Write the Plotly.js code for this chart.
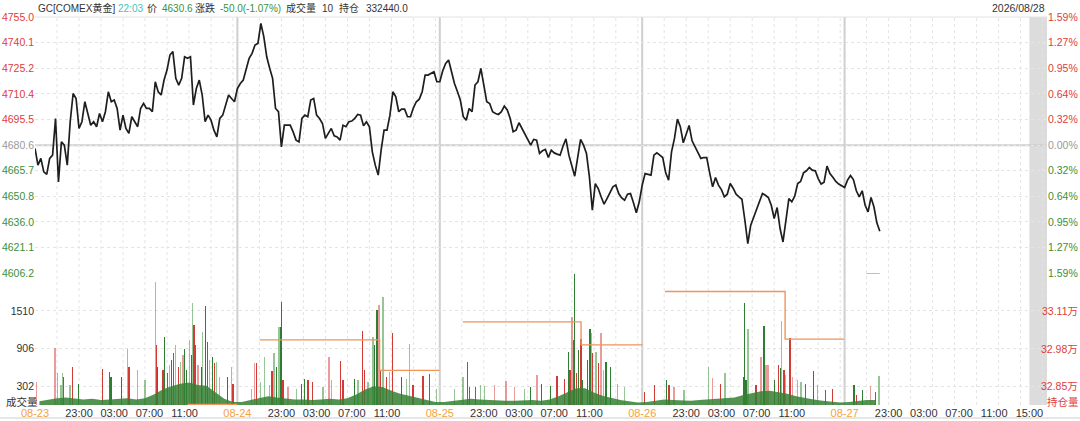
<!DOCTYPE html>
<html><head><meta charset="utf-8">
<script src="https://cdn.plot.ly/plotly-3.0.1.min.js"></script>
<style>html,body{margin:0;padding:0;background:#fff;}#chart{width:1080px;height:421px;}</style>
</head><body><div id="chart"></div>
<script>
// ---------- data ----------
const symbol = 'GC[COMEX黄金]';
const quoteTime = '22:03';
const quoteDate = '2026/08/28';
const prevClose = 4680.6;
const lastVolume = 10;
const openInterest = 332440.0;
const sessionHours = 23;          // 18:00 -> 17:00
const sessionStartHour = 18;
const sampleMinutes = 20;

const dayLabels = ['08-23','08-24','08-25','08-26','08-27'];
const timeLabels = ['23:00','03:00','07:00','11:00','15:00'];

const priceTicks = [4606.2,4621.1,4636.0,4650.8,4665.7,4680.6,4695.5,4710.4,4725.2,4740.1,4755.0];
const pctLabels  = ['1.59%','1.27%','0.95%','0.64%','0.32%','0.00%','0.32%','0.64%','0.95%','1.27%','1.59%'];
const volTicks = [302,906,1510];
const volMax = 2114;
const oiRange = [327800, 332440];
const oiTicks = [328463, 329789, 331114];
const oiLabels = ['32.85万','32.98万','33.11万'];

// price sampled every 20 minutes, per trading day
const day1Price = [4678.7,4669.0,4672.9,4665.1,4663.6,4672.9,4674.8,4696.1,4659.3,4682.5,4680.6,4669.0,4694.2,4710.6,4707.7,4690.3,4694.2,4705.8,4699.0,4692.2,4694.2,4691.3,4699.0,4694.2,4700.0,4711.6,4705.8,4706.8,4701.9,4689.3,4698.0,4690.3,4687.4,4697.1,4694.2,4691.3,4701.9,4704.8,4701.9,4701.9,4700.0,4717.4,4711.6,4709.7,4718.4,4724.2,4732.9,4734.9,4719.4,4715.5,4719.4,4731.9,4731.0,4731.9,4703.9,4713.5,4718.4,4709.7,4694.2,4698.0,4695.1,4689.3,4685.4,4696.1,4698.0,4703.9,4709.7,4707.7,4705.8];
const day2Price = [4713.5,4716.4,4718.4,4724.2,4731.0,4733.9,4738.7,4739.7,4751.3,4743.6,4731.9,4725.2,4719.4,4701.9,4700.0,4679.6,4692.2,4692.2,4692.2,4688.3,4683.5,4682.5,4696.1,4698.0,4697.1,4706.8,4707.7,4698.0,4696.1,4693.2,4684.5,4687.4,4690.3,4686.0,4685.4,4683.5,4692.2,4691.3,4694.2,4694.6,4696.1,4698.4,4698.0,4691.8,4694.2,4691.3,4676.7,4669.0,4663.2,4677.7,4689.3,4689.3,4698.0,4711.6,4708.7,4700.0,4701.5,4701.5,4697.1,4697.1,4702.3,4705.8,4707.3,4711.6,4721.3,4721.3,4722.3,4723.2,4717.4];
const day3Price = [4717.4,4723.8,4728.1,4730.0,4723.2,4716.4,4711.8,4706.8,4697.1,4695.1,4701.9,4700.0,4715.5,4717.4,4725.2,4715.5,4705.8,4704.8,4700.0,4699.0,4698.4,4700.0,4703.3,4701.0,4696.1,4688.4,4689.3,4693.6,4690.3,4687.4,4683.5,4680.6,4683.9,4683.5,4675.8,4677.3,4678.1,4673.4,4677.7,4676.1,4675.4,4674.8,4680.0,4684.3,4674.8,4668.0,4662.6,4673.4,4683.9,4680.6,4675.8,4662.2,4642.8,4658.3,4655.4,4650.6,4646.3,4649.6,4652.9,4656.4,4657.4,4652.5,4650.0,4648.6,4652.1,4652.5,4647.3,4641.3,4647.7];
const day4Price = [4657.4,4664.1,4663.8,4663.2,4674.8,4676.1,4674.8,4673.4,4664.5,4660.3,4676.7,4684.5,4695.7,4691.3,4682.0,4686.4,4692.0,4683.1,4680.0,4676.7,4672.9,4673.4,4673.4,4664.5,4656.4,4661.8,4657.4,4654.8,4650.6,4652.1,4658.3,4655.6,4652.1,4650.6,4649.2,4637.0,4623.4,4634.1,4639.0,4643.8,4648.3,4652.5,4651.5,4650.2,4645.7,4638.0,4644.4,4632.2,4624.4,4637.0,4649.6,4647.7,4651.0,4658.3,4659.5,4664.5,4665.7,4667.6,4666.1,4665.7,4661.2,4658.0,4659.1,4668.4,4664.1,4662.0,4659.5,4658.0,4656.8];
const day5Price = [4656.0,4660.3,4663.0,4660.6,4654.1,4650.6,4654.1,4645.7,4641.9,4650.2,4644.8,4635.5,4630.6];

// typical (background) volume per hour of each session
const volBase1 = [60,90,110,120,100,90,100,80,90,100,110,90,110,170,250,300,340,360,320,310,210,100,50];
const volBase2 = [50,80,110,140,120,100,90,90,80,90,100,90,110,170,250,300,290,230,180,150,120,80,50];
const volBase3 = [50,70,90,100,90,80,80,70,70,80,80,70,90,140,200,270,270,200,150,110,80,60,40];
const volBase4 = [50,70,90,80,70,70,80,90,90,110,120,160,190,220,230,210,180,140,110,90,70,50,40];
const volBase5 = [50,70,80,80];

// volume spikes: time (hours since 08-23 session open), volume, colour code (R/r = down, G/g = up; lower case lighter)
const spikeT = [0.19,2.27,2.53,2.95,3.10,3.21,3.97,4.28,4.91,7.68,8.43,8.63,9.84,10.52,10.67,11.61,12.49,13.70,13.81,13.93,14.56,14.68,15.06,15.32,15.52,15.70,16.00,16.27,16.54,16.83,16.95,17.22,17.59,17.79,17.90,18.05,18.24,18.54,18.92,19.04,19.41,19.60,19.86,20.17,20.43,20.62,21.00,21.87,22.33,22.51,
 24.60,24.97,25.16,25.62,26.11,26.67,26.94,27.16,27.43,27.73,27.89,28.00,28.18,28.75,29.70,30.27,30.65,31.02,31.52,32.72,33.41,33.68,34.70,35.00,36.32,36.70,37.20,37.46,37.83,38.40,38.59,38.85,39.08,39.24,39.54,39.92,40.30,40.60,41.62,42.19,42.56,42.94,44.08,44.84,45.60,
 47.67,48.62,49.12,49.38,50.02,50.62,51.08,52.21,53.54,54.48,55.62,56.30,57.06,57.52,58.57,59.33,60.16,60.61,60.81,61.03,61.21,61.32,61.55,61.78,62.05,62.23,62.80,63.07,63.18,63.37,63.76,64.02,64.32,64.62,64.88,65.38,66.21,66.97,69.24,70.38,
 71.76,72.06,72.63,73.76,76.51,76.97,77.92,78.41,80.50,80.66,80.78,81.04,81.92,82.49,82.83,83.06,83.28,84.00,84.48,84.68,84.83,85.13,85.32,85.78,86.07,86.64,87.03,87.59,88.46,88.91,89.86,90.62,
 93.08,93.34,94.02,94.97,95.53,95.91];
const spikeV = [371,908,506,318,506,452,318,613,345,570,532,452,452,892,602,560,398,1971,962,613,560,1096,506,640,720,828,962,613,694,801,892,560,1043,801,1633,1284,962,640,613,1177,1596,1016,720,774,667,694,452,452,613,345,
 264,667,667,371,763,318,549,828,613,1257,1247,1660,400,290,264,344,425,398,371,290,774,398,710,398,425,398,1193,560,371,1096,962,1526,1606,560,1730,452,532,1150,452,425,978,318,463,495,264,
 250,452,694,291,291,318,302,318,382,291,264,291,479,344,302,462,425,855,560,1418,1043,2106,506,882,1053,398,720,1214,1150,828,855,667,1150,560,694,613,344,291,210,318,
 398,318,291,237,613,441,344,506,452,1633,398,1220,318,763,1268,640,640,398,640,586,1354,560,479,1080,452,398,371,344,549,327,237,264,
 318,157,237,300,210,462];
const spikeC = ['r','r','g','g','g','R','g','R','G','R','R','G','G','g','R','r','g','r','R','G','R','G','R','r','G','R','r','R','g','r','G','G','r','G','g','R','R','r','G','g','G','R','r','G','R','g','r','G','g','R',
 'r','r','R','g','g','g','R','g','G','g','G','G','R','r','g','G','G','R','R','g','r','r','R','R','G','g','R','R','g','g','G','G','r','R','g','R','g','R','G','g','r','R','R','R','g',
 'g','g','R','R','R','g','g','r','r','r','g','G','r','G','G','R','R','G','R','r','R','G','R','G','R','G','G','G','g','R','g','R','r','r','G','G','g','g','R','R',
 'G','R','r','g','g','r','R','g','G','G','G','g','R','r','G','r','r','G','R','G','g','R','g','R','r','r','g','R','G','g','R','R',
 'G','R','G','r','R','g'];

// open interest (step line), null separates sessions
const oiT = [17.37,23.0,null,25.54,39.16,45.97,null,48.61,62.05,69.04,null,71.59,85.24,91.94,null,94.47,96.0];
const oiV = [327820,327820,null,330095,329020,329020,null,330730,329920,329920,null,331800,330120,330120,null,332440,332440];

// ---------- build ----------
const RED = '#e03c3c', GREEN = '#3b8f3b', GRAY = '#9a9a9a', TXT = '#333', ORANGE = '#f5a23a';
const FONT = 'Liberation Sans, Arial, Noto Sans CJK SC, sans-serif';
const W = 1080, H = 421, ML = 35, MR = 33, MT = 17, MB = 16;
const PW = W - ML - MR, PH = H - MT - MB;
const px2x = p => (p - ML) / PW;
const py2y = p => (H - MB - p) / PH;
const splitY = py2y(273.3);

const days = [day1Price, day2Price, day3Price, day4Price, day5Price];
const priceX = [], priceY = [];
days.forEach((arr, d) => arr.forEach((v, k) => { priceX.push(d * sessionHours + k * sampleMinutes / 60); priceY.push(v); }));

const bases = [volBase1, volBase2, volBase3, volBase4, volBase5];
const baseX = [], baseY = [];
bases.forEach((arr, d) => arr.forEach((v, h) => { baseX.push(d * sessionHours + h + 0.5); baseY.push(v); }));

const traces = [];
traces.push({x: baseX, y: baseY, xaxis: 'x', yaxis: 'y2', type: 'scatter', mode: 'lines',
  line: {width: 0, shape: 'linear'}, fill: 'tozeroy', fillcolor: 'rgba(52,128,52,0.85)', hoverinfo: 'skip'});

const colorMap = {R: '#d23a36', r: 'rgba(220,90,90,0.6)', G: '#2f7d32', g: 'rgba(80,160,80,0.6)'};
['r','g','R','G'].forEach(c => {
  const xs = [], ys = [];
  spikeT.forEach((t, i) => { if (spikeC[i] === c) { xs.push(t); ys.push(spikeV[i]); } });
  traces.push({x: xs, y: ys, xaxis: 'x', yaxis: 'y2', type: 'bar', width: 0.15,
    marker: {color: colorMap[c], line: {width: 0}}, hoverinfo: 'skip'});
});

traces.push({x: priceX, y: priceY, xaxis: 'x', yaxis: 'y', type: 'scatter', mode: 'lines',
  line: {color: '#1e1e1e', width: 1.7}, hoverinfo: 'skip'});
traces.push({x: priceX, y: priceY, xaxis: 'x', yaxis: 'y3', type: 'scatter', mode: 'lines',
  line: {color: 'rgba(0,0,0,0)', width: 0}, hoverinfo: 'skip'});
traces.push({x: oiT, y: oiV, xaxis: 'x', yaxis: 'y4', type: 'scatter', mode: 'lines',
  line: {color: '#f0945a', width: 1.4, shape: 'hv'}, connectgaps: false, hoverinfo: 'skip'});

// x ticks
const tickVals = [], tickText = [];
dayLabels.forEach((lab, d) => {
  tickVals.push(d * sessionHours);
  tickText.push('<span style="color:' + ORANGE + '">' + lab + '</span>');
  timeLabels.forEach(t => {
    const hr = parseInt(t.split(':')[0], 10);
    const off = (hr - sessionStartHour + 24) % 24;
    const last = d === dayLabels.length - 1;
    if (off + 3 < sessionHours || last) { tickVals.push(d * sessionHours + off); tickText.push(t); }
  });
});

const colorFor = v => v > prevClose + 0.01 ? RED : (v < prevClose - 0.01 ? GREEN : GRAY);
const priceText = priceTicks.map(v => '<span style="color:' + colorFor(v) + '">' + v.toFixed(1) + '</span>');
const pctText = pctLabels.map((s, i) => '<span style="color:' + colorFor(priceTicks[i]) + '">' + s + '</span>');

const xMax = dayLabels.length * sessionHours;
const shapes = [];
shapes.push({type: 'rect', xref: 'x', yref: 'paper', x0: xMax - 2, x1: xMax, y0: 0, y1: 1,
  fillcolor: '#dcdcdc', line: {width: 0}, layer: 'below'});
for (let d = 0; d < dayLabels.length; d++) {
  for (let j = 1; j <= 9; j++) {
    const xv = d * sessionHours + 2.5 * j;
    shapes.push({type: 'line', xref: 'x', yref: 'paper', x0: xv, x1: xv, y0: 0, y1: 1,
      line: {color: '#e4e4e4', width: 1, dash: 'dot'}, layer: 'below'});
  }
  if (d > 0) shapes.push({type: 'line', xref: 'x', yref: 'paper', x0: d * sessionHours, x1: d * sessionHours, y0: 0, y1: 1,
    line: {color: '#cfcfcf', width: 2}, layer: 'below'});
}
shapes.push({type: 'line', xref: 'paper', yref: 'y', x0: 0, x1: 1, y0: prevClose, y1: prevClose,
  line: {color: '#cfcfcf', width: 2}, layer: 'below'});
shapes.push({type: 'line', xref: 'paper', yref: 'paper', x0: 0, x1: 1, y0: 1, y1: 1,
  line: {color: '#e2e2e2', width: 1}, layer: 'below'});
shapes.push({type: 'line', xref: 'paper', yref: 'paper', x0: px2x(0), x1: px2x(W), y0: py2y(418), y1: py2y(418),
  line: {color: '#e6e6e6', width: 2}});

const lastPrice = day5Price[day5Price.length - 1];
const chg = lastPrice - prevClose;
const chgPct = chg / prevClose * 100;
const hy = py2y(8);
const head = [
  [36, symbol, TXT], [116, quoteTime, '#45c4c4'], [145, '价', TXT], [160, lastPrice.toFixed(1), GREEN],
  [193, '涨跌', TXT], [218, chg.toFixed(1) + '(' + chgPct.toFixed(2) + '%)', GREEN],
  [284, '成交量', TXT], [320, String(lastVolume), TXT], [337, '持仓', TXT], [364, openInterest.toFixed(1), TXT]
];
const annotations = head.map(h => ({xref: 'paper', yref: 'paper', x: px2x(h[0]), y: hy, xanchor: 'left', yanchor: 'middle',
  text: h[1], showarrow: false, font: {size: 10, color: h[2], family: FONT}}));
annotations.push({xref: 'paper', yref: 'paper', x: 1, y: hy, xanchor: 'right', yanchor: 'middle',
  text: quoteDate, showarrow: false, font: {size: 10.5, color: TXT, family: FONT}});
annotations.push({xref: 'paper', yref: 'paper', x: px2x(22), y: py2y(402), xanchor: 'center', yanchor: 'middle',
  text: '成交量', showarrow: false, font: {size: 10.5, color: TXT, family: FONT}});
annotations.push({xref: 'paper', yref: 'paper', x: px2x(1063), y: py2y(402), xanchor: 'center', yanchor: 'middle',
  text: '持仓量', showarrow: false, font: {size: 10.5, color: RED, family: FONT}});
// open-interest axis labels (kept inside the picture)
oiTicks.forEach((v, i) => {
  const frac = (v - oiRange[0]) / (oiRange[1] - oiRange[0]);
  annotations.push({xref: 'paper', yref: 'paper', x: px2x(1080), y: frac * splitY, xanchor: 'right', yanchor: 'middle',
    text: oiLabels[i], showarrow: false, font: {size: 10.5, color: RED, family: FONT}});
});

const gridC = '#e4e4e4';
const layout = {
  width: W, height: H, margin: {l: ML, r: MR, t: MT, b: MB, pad: 0},
  paper_bgcolor: '#fff', plot_bgcolor: 'rgba(0,0,0,0)',
  showlegend: false, barmode: 'overlay', bargap: 0,
  font: {family: FONT, size: 11, color: TXT},
  xaxis: {domain: [0, 1], range: [0, xMax], anchor: 'y2', showgrid: false, zeroline: false, showline: false,
    tickmode: 'array', tickvals: tickVals, ticktext: tickText, ticks: '', tickfont: {size: 11, color: TXT}, fixedrange: true},
  yaxis: {domain: [splitY, 1], range: [priceTicks[0], priceTicks[priceTicks.length - 1]], anchor: 'x', side: 'left',
    tickmode: 'array', tickvals: priceTicks, ticktext: priceText, ticks: '', showgrid: true, gridcolor: gridC, griddash: 'dot',
    zeroline: false, showline: false, tickfont: {size: 10.5}},
  yaxis3: {overlaying: 'y', side: 'right', anchor: 'x', range: [priceTicks[0], priceTicks[priceTicks.length - 1]],
    tickmode: 'array', tickvals: priceTicks, ticktext: pctText, ticks: '', showgrid: false, zeroline: false, showline: false, tickfont: {size: 10.5}},
  yaxis2: {domain: [0, splitY], range: [0, volMax], anchor: 'x', side: 'left',
    tickmode: 'array', tickvals: volTicks, ticktext: volTicks.map(String), ticks: '', showgrid: true, gridcolor: gridC, griddash: 'dot',
    zeroline: false, showline: false, tickfont: {size: 10.5, color: TXT}},
  yaxis4: {overlaying: 'y2', side: 'right', anchor: 'x', range: oiRange, showticklabels: false,
    ticks: '', showgrid: false, zeroline: false, showline: false},
  shapes: shapes, annotations: annotations
};
Plotly.newPlot('chart', traces, layout, {displayModeBar: false, staticPlot: true});
</script></body></html>
